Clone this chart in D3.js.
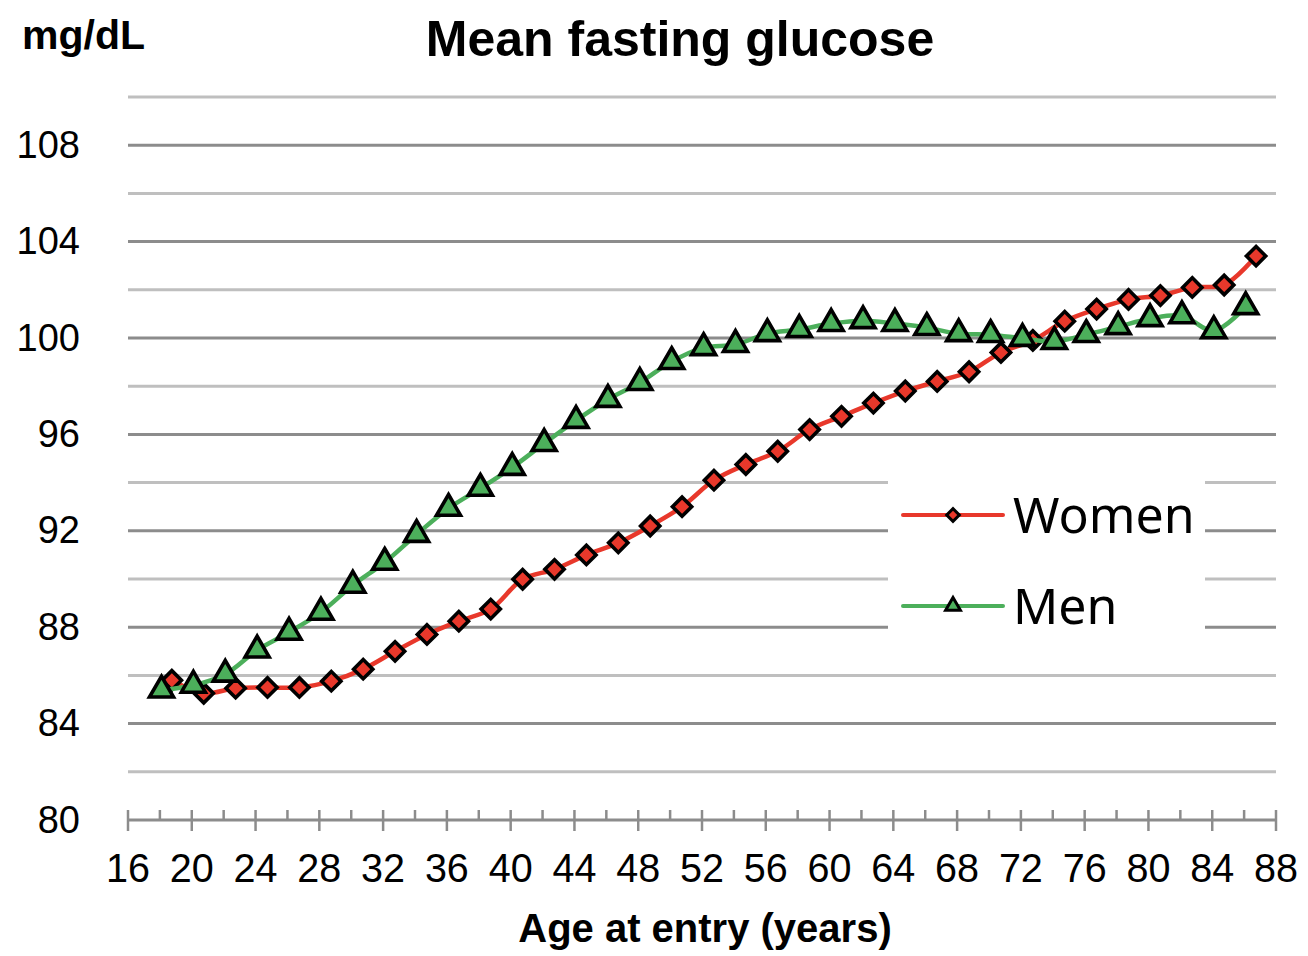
<!DOCTYPE html>
<html>
<head>
<meta charset="utf-8">
<script src="https://cdn.jsdelivr.net/npm/d3@7"></script>
<style>
  body { margin: 0; background: #fff; }
  text { font-family: "Liberation Sans", Arial, sans-serif; fill: #000; }
</style>
</head>
<body>
<div id="chart"></div>
<script>
// age at entry (group means)
var womenAge = [18.75, 20.75, 22.75, 24.75, 26.75, 28.75, 30.75, 32.75, 34.75, 36.75,
                38.75, 40.75, 42.75, 44.75, 46.75, 48.75, 50.75, 52.75, 54.75, 56.75,
                58.75, 60.75, 62.75, 64.75, 66.75, 68.75, 70.75, 72.75, 74.75, 76.75,
                78.75, 80.75, 82.75, 84.75, 86.75];
var womenGlucose = [85.8, 85.26, 85.47, 85.5, 85.5, 85.76, 86.26, 87.0, 87.7, 88.25,
                    88.75, 89.99, 90.4, 91.0, 91.5, 92.2, 93.0, 94.1, 94.75, 95.3,
                    96.2, 96.75, 97.3, 97.8, 98.2, 98.6, 99.4, 99.9, 100.7, 101.2,
                    101.6, 101.76, 102.1, 102.2, 103.4];
var menAge = [18.1, 20.1, 22.1, 24.1, 26.1, 28.1, 30.1, 32.1, 34.1, 36.1,
              38.1, 40.1, 42.1, 44.1, 46.1, 48.1, 50.1, 52.1, 54.1, 56.1,
              58.1, 60.1, 62.1, 64.1, 66.1, 68.1, 70.1, 72.1, 74.1, 76.1,
              78.1, 80.1, 82.1, 84.1, 86.1];
var menGlucose = [85.39, 85.59, 86.05, 87.05, 87.79, 88.62, 89.74, 90.69, 91.85, 92.93,
                  93.76, 94.63, 95.62, 96.58, 97.45, 98.15, 99.02, 99.6, 99.73, 100.18,
                  100.35, 100.6, 100.72, 100.6, 100.43, 100.18, 100.14, 99.98, 99.85, 100.14,
                  100.47, 100.8, 100.92, 100.3, 101.3];
var xTicks = [16, 20, 24, 28, 32, 36, 40, 44, 48, 52, 56, 60, 64, 68, 72, 76, 80, 84, 88];
var xMinorTicks = [18, 22, 26, 30, 34, 38, 42, 46, 50, 54, 58, 62, 66, 70, 74, 78, 82, 86];
var yTicks = [80, 84, 88, 92, 96, 100, 104, 108];
var yMinorGrid = [82, 86, 90, 94, 98, 102, 106, 110];

var width = 1308, height = 956;
var plotLeft = 128, plotRight = 1276, plotTop = 97, plotBottom = 820;

var svg = d3.select("#chart").append("svg")
    .attr("width", width)
    .attr("height", height);

var x = d3.scaleLinear().domain([16, 88]).range([plotLeft, plotRight]);
var y = d3.scaleLinear().domain([80, 110]).range([plotBottom, plotTop]);

// gridlines
svg.append("g").selectAll("line")
    .data(yMinorGrid)
    .enter().append("line")
    .attr("x1", plotLeft).attr("x2", plotRight)
    .attr("y1", function (d) { return y(d); })
    .attr("y2", function (d) { return y(d); })
    .attr("stroke", "#bfbfbf")
    .attr("stroke-width", 3);

svg.append("g").selectAll("line")
    .data(yTicks.filter(function (d) { return d > 80; }))
    .enter().append("line")
    .attr("x1", plotLeft).attr("x2", plotRight)
    .attr("y1", function (d) { return y(d); })
    .attr("y2", function (d) { return y(d); })
    .attr("stroke", "#8c8c8c")
    .attr("stroke-width", 3);

// y labels
svg.append("g").selectAll("text")
    .data(yTicks)
    .enter().append("text")
    .attr("x", 80)
    .attr("y", function (d) { return y(d); })
    .attr("dy", "0.33em")
    .attr("text-anchor", "end")
    .style("font-size", "38px")
    .text(function (d) { return d; });

// x axis
var xAxis = svg.append("g").attr("transform", "translate(0," + plotBottom + ")");
xAxis.append("line")
    .attr("x1", plotLeft).attr("x2", plotRight)
    .attr("stroke", "#8c8c8c").attr("stroke-width", 3);
xAxis.selectAll(".minor")
    .data(xMinorTicks)
    .enter().append("line")
    .attr("class", "minor")
    .attr("x1", function (d) { return x(d); })
    .attr("x2", function (d) { return x(d); })
    .attr("y1", -10).attr("y2", 0)
    .attr("stroke", "#8c8c8c").attr("stroke-width", 2.5);
xAxis.selectAll(".major")
    .data(xTicks)
    .enter().append("line")
    .attr("class", "major")
    .attr("x1", function (d) { return x(d); })
    .attr("x2", function (d) { return x(d); })
    .attr("y1", -10).attr("y2", 11)
    .attr("stroke", "#8c8c8c").attr("stroke-width", 2.5);
xAxis.selectAll("text")
    .data(xTicks)
    .enter().append("text")
    .attr("x", function (d) { return x(d); })
    .attr("y", 62)
    .attr("text-anchor", "middle")
    .style("font-size", "40px")
    .attr("textLength", 44)
    .attr("lengthAdjust", "spacingAndGlyphs")
    .text(function (d) { return d; });

// titles
svg.append("text")
    .attr("x", 680).attr("y", 56)
    .attr("text-anchor", "middle")
    .style("font-size", "50px").style("font-weight", "bold")
    .text("Mean fasting glucose");
svg.append("text")
    .attr("x", 22).attr("y", 49)
    .style("font-size", "41px").style("font-weight", "bold")
    .text("mg/dL");
svg.append("text")
    .attr("x", 705).attr("y", 942)
    .attr("text-anchor", "middle")
    .style("font-size", "40px").style("font-weight", "bold")
    .text("Age at entry (years)");

// series
var series = [
    { name: "Women", ages: womenAge, values: womenGlucose, color: "#e8382b", shape: "diamond" },
    { name: "Men", ages: menAge, values: menGlucose, color: "#4caf5b", shape: "triangle" }
];

var line = d3.line()
    .x(function (d) { return x(d[0]); })
    .y(function (d) { return y(d[1]); })
    .curve(d3.curveCatmullRom.alpha(0.5));

function drawMarker(g, shape, color, big) {
    if (shape === "diamond") {
        g.append("path").attr("d", d3.symbol(d3.symbolSquare, big ? 185 : 80)())
            .attr("transform", "rotate(45)")
            .attr("fill", color).attr("stroke", "#000").attr("stroke-width", big ? 3.6 : 3);
    } else {
        g.append("path").attr("d", d3.symbol(d3.symbolTriangle, big ? 250 : 95)())
            .attr("fill", color).attr("stroke", "#000").attr("stroke-width", big ? 3.6 : 3);
    }
}

series.forEach(function (s) {
    var pts = s.ages.map(function (a, i) { return [a, s.values[i]]; });
    svg.append("path")
        .datum(pts)
        .attr("d", line)
        .attr("fill", "none")
        .attr("stroke", s.color)
        .attr("stroke-width", 4.5);
    svg.append("g").selectAll("g")
        .data(pts)
        .enter().append("g")
        .attr("transform", function (d) { return "translate(" + x(d[0]) + "," + y(d[1]) + ")"; })
        .each(function () { drawMarker(d3.select(this), s.shape, s.color, true); });
});

// legend
var legend = svg.append("g");
legend.append("rect")
    .attr("x", 888).attr("y", 470)
    .attr("width", 317).attr("height", 184)
    .attr("fill", "#fff");
series.forEach(function (s, i) {
    var ly = 515 + i * 91;
    legend.append("line")
        .attr("x1", 903).attr("x2", 1003)
        .attr("y1", ly).attr("y2", ly)
        .attr("stroke", s.color).attr("stroke-width", 4)
        .attr("stroke-linecap", "round");
    var m = legend.append("g").attr("transform", "translate(953," + ly + ")");
    drawMarker(m, s.shape, s.color, false);
    legend.append("text")
        .attr("x", 1013).attr("y", ly)
        .attr("dy", "0.36em")
        .style("font-family", "'Noto Sans', 'Open Sans', sans-serif")
        .style("font-size", "50px")
        .text(s.name);
});
</script>
</body>
</html>
